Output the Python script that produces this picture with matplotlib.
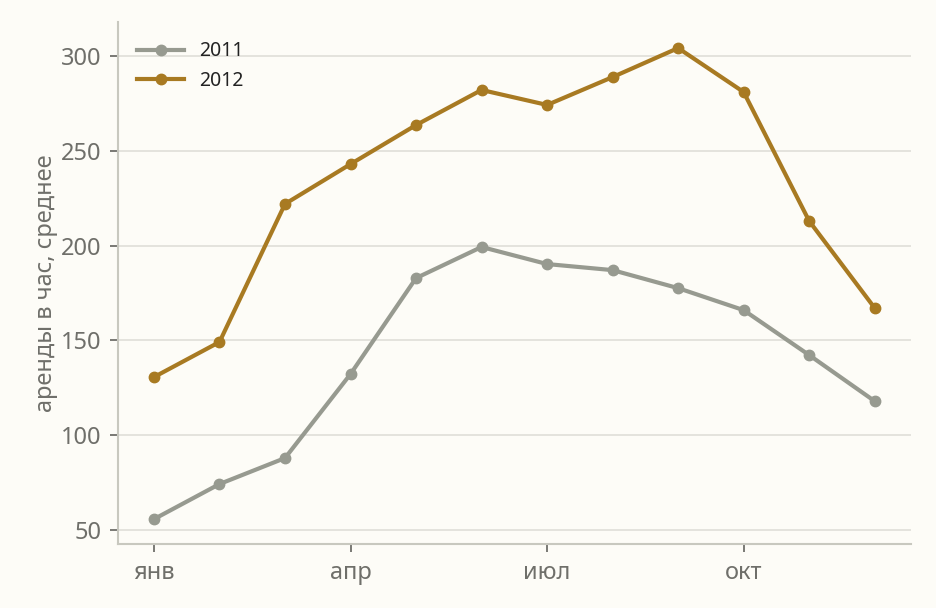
import numpy as np
import matplotlib.pyplot as plt

# Средняя аренда в час по месяцам
months = np.arange(1, 13)
rent_2011 = [55.8, 74.3, 88, 132.3, 182.9, 199.3, 190.3, 187.1, 177.6, 166, 142.3, 118]
rent_2012 = [130.7, 149.2, 222, 243, 263.6, 282.1, 274.2, 288.9, 304.2, 281, 213, 167.1]
tick_months = [1, 4, 7, 10]
tick_labels = ['янв', 'апр', 'июл', 'окт']

bg = '#fdfcf7'
plt.rcParams['font.family'] = ['Noto Sans', 'DejaVu Sans']

fig = plt.figure(figsize=(9.36, 6.08), dpi=100, facecolor=bg)
ax = fig.add_axes([0.126, 0.105, 0.847, 0.859], facecolor=bg)

ax.plot(months, rent_2011, color='#979a90', lw=3, marker='o', ms=7.5, label='2011', zorder=3)
ax.plot(months, rent_2012, color='#a87a22', lw=3, marker='o', ms=7.5, label='2012', zorder=3)

ax.set_xlim(0.45, 12.55)
ax.set_ylim(42.6, 318)
ax.set_yticks([50, 100, 150, 200, 250, 300])
ax.set_xticks(tick_months)
ax.set_xticklabels(tick_labels)

ax.grid(axis='y', color='#e0ded8', lw=1.2, zorder=0)
for side in ['top', 'right']:
    ax.spines[side].set_visible(False)
for side in ['left', 'bottom']:
    ax.spines[side].set_color('#c8c8bf')
    ax.spines[side].set_linewidth(1.5)

ax.tick_params(axis='both', colors='#6f6f6a', labelsize=17, length=6, width=1.3, pad=6)
ax.set_ylabel('аренды в час, среднее', fontsize=17, color='#6f6f6a', labelpad=2)

leg = ax.legend(loc='upper left', frameon=False, fontsize=14, handlelength=2.4,
                borderaxespad=0.6, labelspacing=0.5, handletextpad=0.8)
for t in leg.get_texts():
    t.set_color('#222222')

fig.savefig('out.png', dpi=100, facecolor=bg)
